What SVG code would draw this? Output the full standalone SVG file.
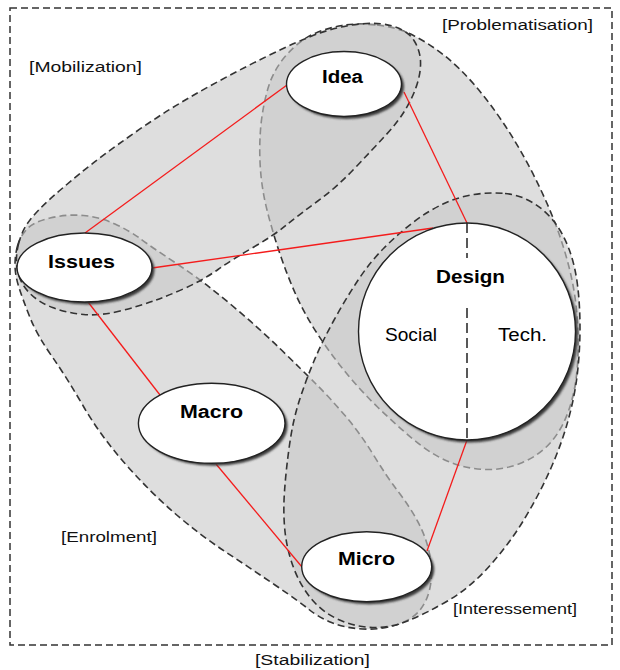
<svg xmlns="http://www.w3.org/2000/svg" width="620" height="670" viewBox="0 0 620 670">
<defs>
<filter id="sh" x="-20%" y="-20%" width="140%" height="140%"><feGaussianBlur stdDeviation="1.3"/></filter>
<style>
.leaf{fill:#c8c8c8;fill-opacity:0.6;stroke:#333;stroke-width:1.6;stroke-dasharray:7 4}
.border{fill:none;stroke:#333;stroke-width:1.5;stroke-dasharray:7 4}
.con{stroke:#f41c1c;stroke-width:1.3;fill:none}
.node{fill:#fff;stroke:#222;stroke-width:1.4}
.shadow{fill:#3a3a3a;filter:url(#sh)}
.nl{font-family:"Liberation Sans",Arial,sans-serif;font-weight:bold;font-size:18px;fill:#000;text-anchor:middle}
.sl{font-family:"Liberation Sans",Arial,sans-serif;font-size:18px;fill:#000;text-anchor:middle}
.lab{font-family:"Liberation Sans",Arial,sans-serif;font-size:14px;fill:#111}
.split{stroke:#222;stroke-width:1.5;stroke-dasharray:10 5}
</style>
</defs>
<rect width="620" height="670" fill="#fff"/>
<rect class="border" x="10" y="8" width="602" height="637"/>
<g id="stages">
<path id="problematisation" class="leaf" d="M377,25 Q397,27 413.5,35.5 Q430,44 445,56 Q460,68 475,85.5 Q490,103 504,124 Q518,145 530.5,169 Q543,193 552.5,216.5 Q562,240 568.5,265 Q575,290 577,315 Q579,340 577.5,364 Q576,388 569.5,408 Q563,428 551.5,441.5 Q540,455 522.5,462.5 Q505,470 486,469.5 Q467,469 449.5,462 Q432,455 413.5,439.5 Q395,424 377.5,407 Q360,390 345,371.5 Q330,353 317.5,334 Q305,315 296,295 Q287,275 279.5,252.5 Q272,230 267,210 Q262,190 260.5,170 Q259,150 260.5,130 Q262,110 267.5,90 Q273,70 286.5,55 Q300,40 313.5,34 Q327,28 342,25.5 Q357,23 377,25 Z"/>
<path id="enrolment" class="leaf" d="M17.5,246 Q20,237 26.5,229.5 Q33,222 50,218 Q67,214 83.5,215.5 Q100,217 115,224 Q130,231 140,238.5 Q150,246 176.5,263.5 Q203,281 231.5,305 Q260,329 281.5,350 Q303,371 316.5,384.5 Q330,398 345,415.5 Q360,433 373.5,455 Q387,477 398.5,492 Q410,507 418,522 Q426,537 429.5,553.5 Q433,570 430.5,585 Q428,600 420,610 Q412,620 396,625 Q380,630 362.5,629 Q345,628 331.5,622.5 Q318,617 309,609.5 Q300,602 275,585 Q250,568 225,551.5 Q200,535 175,513.5 Q150,492 125,463.5 Q100,435 83.5,406.5 Q67,378 52,356.5 Q37,335 30,317.5 Q23,300 19,287.5 Q15,275 15,265 Q15,255 17.5,246 Z"/>
<path id="mobilization" class="leaf" d="M18.5,244 Q22,230 30,220 Q38,210 49,200 Q60,190 80,173.5 Q100,157 133.5,133.5 Q167,110 200,91.5 Q233,73 266.5,56.5 Q300,40 320,33 Q340,26 360,24 Q380,22 394,26.5 Q408,31 414,40.5 Q420,50 420.5,61 Q421,72 417,84.5 Q413,97 405.5,109.5 Q398,122 385,136 Q372,150 354.5,168.5 Q337,187 318.5,200.5 Q300,214 286.5,225 Q273,236 253,247.5 Q233,259 218,269.5 Q203,280 186.5,287.5 Q170,295 155,300.5 Q140,306 120,311 Q100,316 83.5,314.5 Q67,313 52.5,307.5 Q38,302 29,292.5 Q20,283 17.5,270.5 Q15,258 18.5,244 Z"/>
<path id="interessement" class="leaf" d="M505,193.5 Q520,195 532.5,202.5 Q545,210 554,221.5 Q563,233 569,249 Q575,265 577.5,285 Q580,305 580,327.5 Q580,350 577.5,372.5 Q575,395 568.5,419 Q562,443 551,468 Q540,493 525,518 Q510,543 490,565.5 Q470,588 447.5,601 Q425,614 407.5,621 Q390,628 372.5,627.5 Q355,627 338.5,619.5 Q322,612 311,598.5 Q300,585 293.5,567.5 Q287,550 285,531.5 Q283,513 284.5,491.5 Q286,470 289.5,445 Q293,420 299.5,400 Q306,380 314,361 Q322,342 333.5,321 Q345,300 357.5,281 Q370,262 384,248 Q398,234 413,222.5 Q428,211 443,204 Q458,197 474,194.5 Q490,192 505,193.5 Z"/>
</g>
<g id="connectors">
<line class="con" x1="85" y1="233" x2="287" y2="85"/>
<line class="con" x1="152" y1="268" x2="433" y2="228"/>
<line class="con" x1="404" y1="92" x2="467" y2="223"/>
<line class="con" x1="88" y1="302" x2="160" y2="395"/>
<line class="con" x1="216" y1="464" x2="302" y2="567"/>
<line class="con" x1="467" y1="440" x2="427" y2="551"/>
</g>
<g id="node-idea">
<ellipse class="shadow" cx="346.5" cy="86.5" rx="57.5" ry="32.5"/>
<ellipse class="node" cx="344" cy="84" rx="57.5" ry="32.5"/>
<text class="nl" x="342.5" y="83" textLength="41" lengthAdjust="spacingAndGlyphs">Idea</text>
</g>
<g id="node-issues">
<ellipse class="shadow" cx="87" cy="270" rx="67.5" ry="34.5"/>
<ellipse class="node" cx="84.5" cy="267.5" rx="67.5" ry="34.5"/>
<text class="nl" x="81.5" y="268" textLength="67" lengthAdjust="spacingAndGlyphs">Issues</text>
</g>
<g id="node-macro">
<ellipse class="shadow" cx="214.2" cy="425.8" rx="73.3" ry="40"/>
<ellipse class="node" cx="211.7" cy="423.3" rx="73.3" ry="40"/>
<text class="nl" x="211.5" y="418" textLength="63" lengthAdjust="spacingAndGlyphs">Macro</text>
</g>
<g id="node-micro">
<ellipse class="shadow" cx="369.2" cy="569.2" rx="65" ry="35"/>
<ellipse class="node" cx="366.7" cy="566.7" rx="65" ry="35"/>
<text class="nl" x="366.5" y="565" textLength="57" lengthAdjust="spacingAndGlyphs">Micro</text>
</g>
<g id="node-design">
<circle class="shadow" cx="469.5" cy="334" r="108.5"/>
<circle class="node" cx="467" cy="331.5" r="108.5"/>
<line class="split" x1="467" y1="223" x2="467" y2="258"/>
<line class="split" x1="467" y1="308" x2="467" y2="440"/>
<text class="nl" x="470.5" y="283" textLength="69" lengthAdjust="spacingAndGlyphs">Design</text>
<text class="sl" x="411" y="341" textLength="52" lengthAdjust="spacingAndGlyphs">Social</text>
<text class="sl" x="522.5" y="341" textLength="49" lengthAdjust="spacingAndGlyphs">Tech.</text>
</g>
<g id="labels">
<text class="lab" x="29" y="72" textLength="113" lengthAdjust="spacingAndGlyphs">[Mobilization]</text>
<text class="lab" x="442" y="30" textLength="151" lengthAdjust="spacingAndGlyphs">[Problematisation]</text>
<text class="lab" x="61" y="542" textLength="96" lengthAdjust="spacingAndGlyphs">[Enrolment]</text>
<text class="lab" x="453" y="614" textLength="124" lengthAdjust="spacingAndGlyphs">[Interessement]</text>
<text class="lab" x="255" y="665" textLength="115" lengthAdjust="spacingAndGlyphs">[Stabilization]</text>
</g>
</svg>
